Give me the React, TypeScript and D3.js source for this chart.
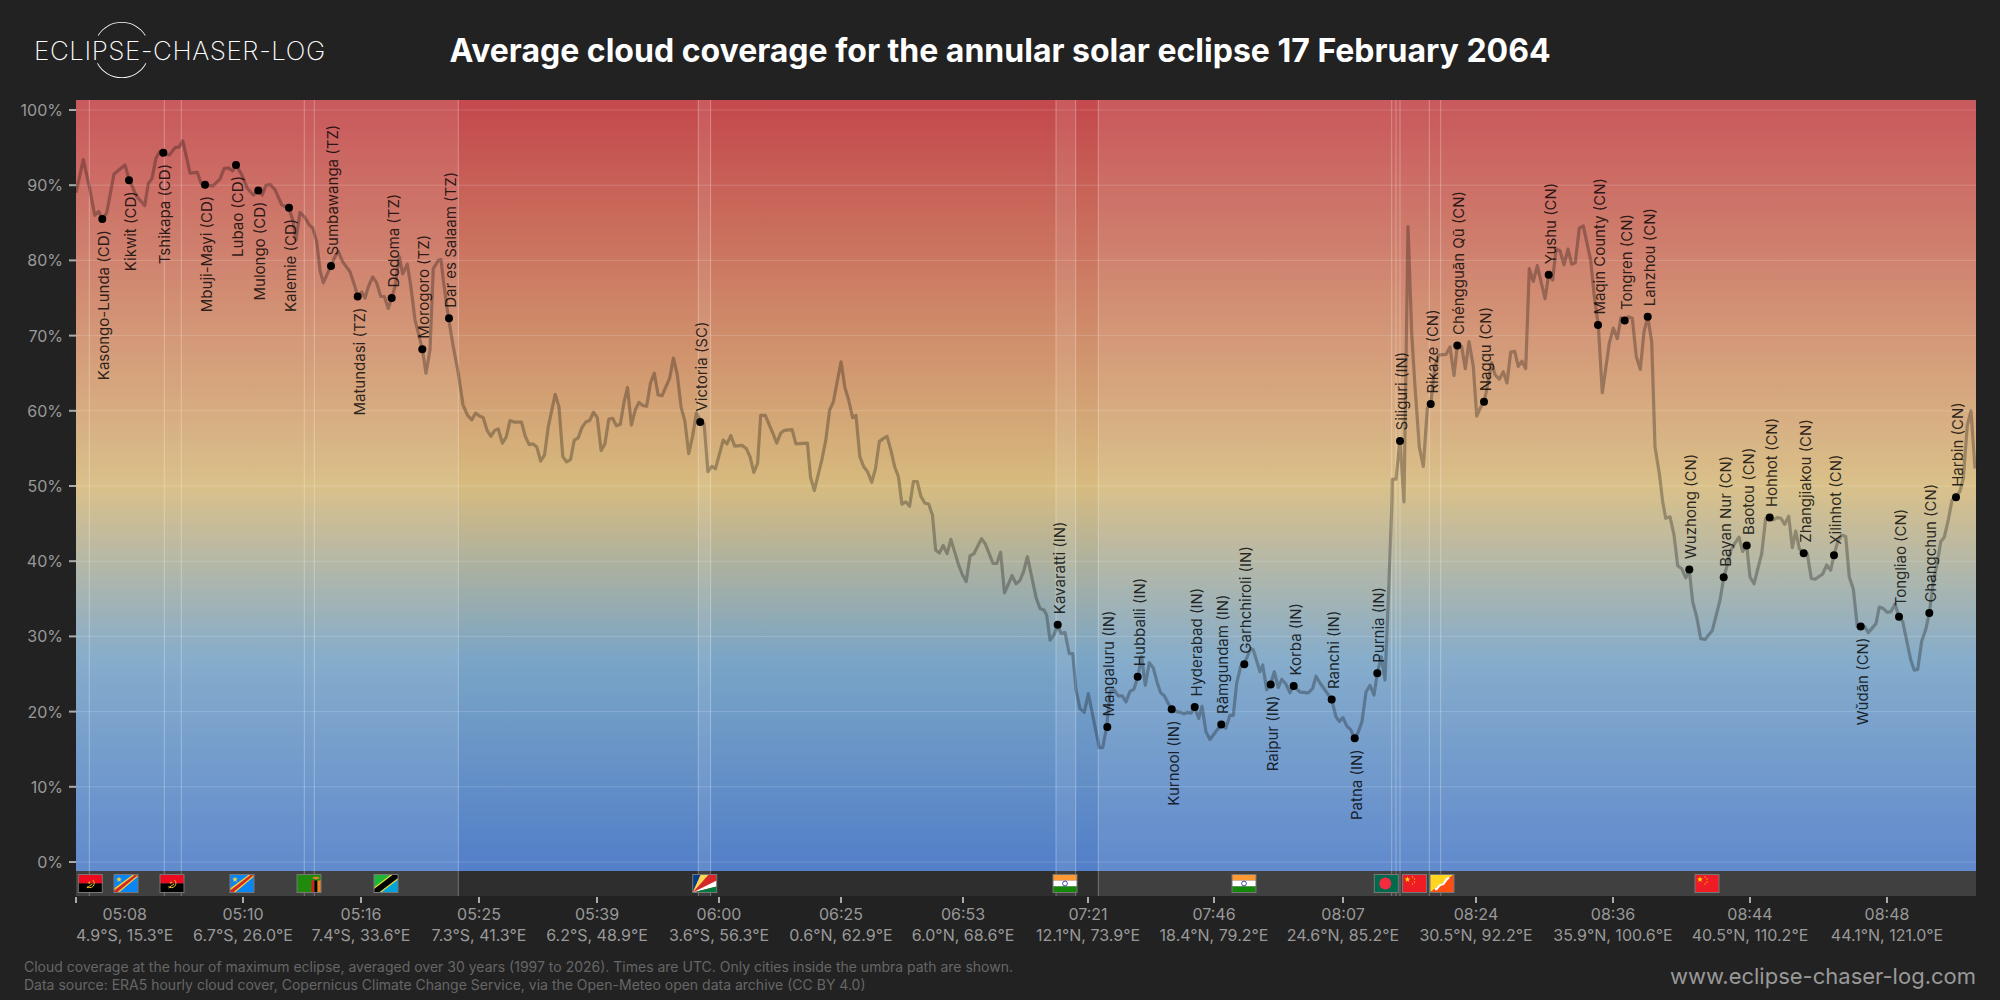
import React from "react";
import * as d3 from "d3";

// Position along the eclipse track (chart units) and average cloud cover (%)
const trackPos = [0,7.3,13.3,18.7,22.7,26.3,30.7,38,49,53.3,60.7,68.7,72.3,76,80,84,93.3,99,103.3,106.7,110,114,121.3,125.3,129.3,136.7,144,148,152.3,156.7,160,165.7,171.3,177.3,182.3,186.3,190,194,199,205.7,213,216.7,220,224,229,233.3,236.7,240.7,244,247.3,254.7,259,262.3,266.7,274,279,281.7,285.7,289,292.3,296.7,300.7,304.7,308.3,312.3,315.7,319,323.3,326.7,331.3,334.7,339,346.3,350,354,357.3,362.3,365,367.3,372.3,377.3,382.3,
387,391.6,395.8,399.6,403.4,407.2,411.1,414.9,418.7,422.2,426.4,430.2,434,437.9,445.5,449.3,453.2,457,460.8,464.6,468.5,472.3,479.2,483,486.8,490.7,494.5,498.3,502.2,506,509.8,513.6,517.5,521.3,525.1,528.9,532.8,536.6,540.4,544.3,548.1,551.5,555.4,559.2,563,566.8,570.7,574.5,578.3,582.1,586,593.6,597.4,601.3,605.1,608.9,612.7,616.6,620.4,624.2,628.1,631.9,635.7,639.5,647.2,651,654.8,658.7,666.3,670.2,674,677.8,681.6,684.7,689.3,696.9,700.8,704.6,708.4,716.1,719.9,731.4,734.5,738.3,745.9,749.8,753.6,757.4,761.2,765.1,768.9,772.7,776.6,780,783.8,787.6,791.5,795.7,799.5,803.3,807.2,811,814.8,818.6,822.5,825.9,829.7,833.6,837.4,841.2,845,848.9,852.7,856.5,859.6,863.4,867.2,871.1,874.9,882.6,886.4,890.2,894,897.9,905.5,909.3,917,920.8,924.6,928.5,936.1,940,943.8,947.6,951.4,955.3,960.2,
964,968,970.7,974,978,981.7,985,989,993.3,996.7,1000,1004,1008.3,1012.3,1019,1023.3,1026.7,1030.7,1034,1038,1042.3,1046.3,1050,1054,1058,1061.7,1065.7,1069.3,1073.3,1077.3,1081.3,1084.7,1088.3,1095.7,1104,1108,1111.7,1115,1118.7,1122.7,1126,1130,1134,1141.3,1145.7,1149.7,1154,1157.3,1160.7,1164.7,1168,1171.3,1174.7,1177.3,1184,1186.7,1190.7,1194.7,1198.3,1202.3,1205.7,1209.7,1214,1217.3,1224,1232.3,1236.7,1240,1244,1248.3,1255.7,1260,1263.3,1267,1270.7,1274.7,1278.7,1282.3,1286,1290,1294,1298,1301.3,1305.3,1309,1312.3,1316,
1316.3,1320,1324,1328,1332,1335.7,1339,1343.3,1347.3,1351.3,1354.7,1359,1362.3,1370,1374,1378,1381.3,1385.7,1389.3,1393,1397.3,1400.7,1404.7,1408,1410.7,1415.7,1419,1423.3,1427.3,1431,1434.7,1438.7,1442.3,1446,1449.7,1453.3,1457.3,1461.3,1469,1472.7,1476.7,1480,1484,1488,1492,1495.7,1499.3,1503.3,1507.3,1514.7,1518.3,1522.3,1526.3,1533.3,1537.3,1541.3,1545,1548.7,1552.3,1556.3,1560.3,1564.3,1568,1571.7,1575.7,
1579,1583.3,1586.7,1589.7,1594,1598,1601.7,1605.7,1609.7,1613.3,1616.7,1620.7,1624.7,1629,1636.3,1644,1647.7,1651.7,1655,1659,1663,1666.7,1670.7,1674,1678,1685.7,1689.7,1693.7,1697.3,1701.3,1705,1708.7,1712.7,1716.3,1719.7,1723.3,1727.3,1731.3,1735.3,1739,1746.7,1750.7,1754.7,1758,1761.7,1765.7,1769.7,1773.3,1777.3,1781.3,1784.7,1788.7,1792.3,1800,1803.3,1807.3,1811.3,1815,1819,1823,1826.7,1834.7,1838.3,1841.7,1845.7,1849.7,1853.3,1857.3,1860.7,1864.7,1868.3,1872.3,1876,1880,1884,1887.3,1891.3,1895,1899];

const cloudCover = [89,93.4,89.8,86,86.5,85.5,86.3,91.5,92.7,90.7,88.5,87.3,90.2,90.9,93.6,94.5,94,95,95.1,95.9,94,91.6,91.7,90.2,90,89.9,90.8,92.2,92.3,91.9,92.7,91.4,89.6,88.7,89.3,88.7,90,90.1,89.4,87.4,86.9,85.4,82.7,86.4,85.7,84.7,84.3,82.5,78.7,77,79.2,80.5,81.2,79.8,78.5,76.5,75.2,75.8,75,76.5,77.8,77,75.2,75.2,73.6,75,76.5,80.5,78.2,79.5,76.7,72.1,68.2,65,68.1,78.9,80,80.1,77.4,72.5,68.5,65,
60.8,59.4,58.8,59.7,59.3,59.1,57.4,56.6,57.4,57.6,55.7,56.5,58.7,58.5,58.5,56.6,55.5,55.6,55.2,53.3,54.1,57.9,62.2,60.5,53.9,53.2,53.5,56.1,56.4,57.8,58.5,58.7,59.8,59.1,54.7,55.6,58.9,59,58,58.2,61.2,63.1,58.1,60.1,61.1,60.7,60.6,63.7,65,62.1,62,64.3,67,64.8,60.5,58.6,54.3,56.6,59.7,58.8,58.3,51.9,52.6,52.3,56.1,55.6,56.7,55.3,55.4,55,53.9,51.8,53,59.4,59.4,57,55.7,57,57.4,57.5,55.6,55.7,51.2,49.4,53.5,56.1,60.1,61.2,63.9,66.5,63.1,61.4,59.1,59.4,53.9,52.6,51.9,50.5,52.3,55.9,56.3,56.6,54.8,52.6,51.2,47.6,47.9,47.3,50.6,50.6,48.6,47.7,47.6,46.1,41.5,41.1,42.1,41,42.9,39.5,38.2,37.3,40.7,41,43,42.3,39.7,39.7,41.2,35.8,38.1,37,37.4,38.6,40.6,38.2,35.1,
33.7,33.5,32.8,29.5,30.2,31.5,30.4,30.5,27.7,27.7,22.9,20.4,19.9,22.4,18,15.2,15.2,18,22.7,22.9,22.1,22.1,21.3,22.7,23,24.6,27.3,23.5,26.5,25.8,23.8,22.5,22.1,20.2,19.9,19.7,19.9,19.8,20.6,19.1,20.7,17.3,16.3,17.6,18.3,17.8,19.5,19.5,23.8,26,26.4,27.3,28.4,28.2,25.3,26.2,22.9,23.7,25.3,23.2,24.3,23.7,22.5,23.4,22.6,22.5,23.1,24.7,23.8,23,21.6,19.3,18.7,19.2,18.1,17.6,16.4,17.3,18.7,22.6,23.5,22.2,25.1,27.3,24.2,34.9,48.1,
50.9,50.9,56,47.9,84.5,70.3,63.2,55.2,52.6,60.3,60.9,65.9,67.4,67.5,68.5,64.7,68.7,68.5,65.6,69.2,65.9,59.3,60.5,61.2,62.8,66.4,64.8,64.2,65.2,63.7,67.8,67.9,65.9,66.6,65.6,78.9,77.2,79.3,74.9,78.1,77.4,81.5,81.3,79.4,81.5,79.5,79.7,84.3,84.6,80,75.2,71.4,62.4,69,71,69.6,72.4,72.1,72.5,72.3,67.2,65.5,70.5,72.5,69.2,
55.2,51.7,47.9,45.7,45.9,43.5,39.4,39,37.8,38.8,34.6,32.6,29.7,29.6,30.8,34.8,37.8,39.7,41.5,42.4,43.2,41.3,42.1,37.9,37,41,45.7,45.8,45.5,45.8,45.7,44.9,46,41.8,44,41.7,41,41,37.7,37.6,38.3,39.5,38.8,40.8,42.6,43.5,43.3,37.9,36.3,31.3,31.3,31.3,30.5,31.7,33.9,33.7,33.2,33.3,34.3,32.6,32,26.9,25.5,25.6,29.4,30.9,33.1,37.3,39.3,42.6,43.2,45.5,48.1,48.6,49.3,51,58.1,60,52.3];

const cityNames = ["Kasongo-Lunda (CD)","Kikwit (CD)","Tshikapa (CD)","Mbuji-Mayi (CD)","Lubao (CD)","Mulongo (CD)","Kalemie (CD)","Sumbawanga (TZ)","Matundasi (TZ)","Dodoma (TZ)","Morogoro (TZ)","Dar es Salaam (TZ)","Victoria (SC)","Kavaratti (IN)","Mangaluru (IN)","Hubballi (IN)","Kurnool (IN)","Hyderabad (IN)","Rāmgundam (IN)","Garhchiroli (IN)","Raipur (IN)","Korba (IN)","Ranchi (IN)","Patna (IN)","Purnia (IN)","Siliguri (IN)","Rikaze (CN)","Chéngguān Qū (CN)","Nagqu (CN)","Yushu (CN)","Maqin County (CN)","Tongren (CN)","Lanzhou (CN)","Wuzhong (CN)","Bayan Nur (CN)","Baotou (CN)","Hohhot (CN)","Zhangjiakou (CN)","Xilinhot (CN)","Wǔdān (CN)","Tongliao (CN)","Changchun (CN)","Harbin (CN)"];
const cityPos = [26.3,53,87.3,129,160,182.3,213,255,281.7,315.7,346.3,373,624.2,981.7,1031.3,1061.7,1095.7,1118.7,1145.3,1168.3,1194.7,1217.7,1255.7,1278.7,1301.3,1324,1354.7,1381.3,1408,1472.7,1522,1548.7,1571.7,1613.3,1647.7,1670.7,1693.7,1727.7,1758,1784.7,1823,1853.3,1880];
const cityCloud = [85.5,90.65,94.3,90.07,92.7,89.3,87,79.25,75.2,75,68.2,72.3,58.5,31.56,17.95,24.65,20.3,20.6,18.3,26.3,23.6,23.4,21.6,16.45,25.1,56,60.9,68.7,61.2,78.1,71.4,72,72.5,38.9,37.85,42.1,45.8,41.05,40.8,31.3,32.6,33.1,48.5];
const cityBelow = ["Kasongo-Lunda (CD)","Kikwit (CD)","Tshikapa (CD)","Mbuji-Mayi (CD)","Lubao (CD)","Mulongo (CD)","Kalemie (CD)","Matundasi (TZ)","Kurnool (IN)","Raipur (IN)","Patna (IN)","Wǔdān (CN)"];

const yTicks = [0,10,20,30,40,50,60,70,80,90,100];
const xTickPos = [0,167,285,403,521,643,765,887,1012,1138,1267,1400,1537,1674,1811];
const xLabelPos = [48.7,167,285,403,521,643,765,887,1012,1138,1267,1400,1537,1674,1811];
const xTimes = ["05:08","05:10","05:16","05:25","05:39","06:00","06:25","06:53","07:21","07:46","08:07","08:24","08:36","08:44","08:48"];
const xCoords = ["4.9°S, 15.3°E","6.7°S, 26.0°E","7.4°S, 33.6°E","7.3°S, 41.3°E","6.2°S, 48.9°E","3.6°S, 56.3°E","0.6°N, 62.9°E","6.0°N, 68.6°E","12.1°N, 73.9°E","18.4°N, 79.2°E","24.6°N, 85.2°E","30.5°N, 92.2°E","35.9°N, 100.6°E","40.5°N, 110.2°E","44.1°N, 121.0°E"];

// Stretches of the track over land, one per country passage
const landStart = [0,13.3,88.3,105.3,228.3,238.3,622.3,980,1022.3,1315.7,1320,1324,1353.3,1364.7];
const landEnd = [13.3,88.3,105.3,228.3,238.3,382.3,634.6,999.7,1315.7,1320,1324,1353.3,1364.7,1900];
// Country borders drawn as thin rules
const borderPos = [13.3,88.3,105.3,228.3,238.3,382.3,622.3,634.6,980,999.7,1022.3,1315.7,1320,1324,1353.3,1364.7];

const flagCodes = ["AO","CD","AO","CD","ZM","TZ","SC","IN","IN","BD","CN","BT","CN"];
const flagPos = [14.3,50,96,166,233,310,628.7,989,1168,1310.3,1338.5,1366,1631];

const gradientValues = [100,50,27,0];
const gradientColors = ["#c44a4d","#d7bb7f","#7aa5c6","#5380c8"];

const title = "Average cloud coverage for the annular solar eclipse 17 February 2064";
const footer = [
  "Cloud coverage at the hour of maximum eclipse, averaged over 30 years (1997 to 2026). Times are UTC. Only cities inside the umbra path are shown.",
  "Data source: ERA5 hourly cloud cover, Copernicus Climate Change Service, via the Open-Meteo open data archive (CC BY 4.0)",
];
const siteUrl = "www.eclipse-chaser-log.com";
const logoText = "ECLIPSE-CHASER-LOG";

const FONT = "Inter, 'Noto Sans', sans-serif";
const W = 2000, H = 1000;
const plotLeft = 76, plotRight = 1976, plotTop = 100, plotBottom = 871, stripBottom = 896;

const x = d3.scaleLinear().domain([0, 1900]).range([plotLeft, plotRight]);
const y = d3.scaleLinear().domain([0, 100]).range([862, 110]);

function Flag({ code, cx }: { code: string; cx: number }) {
  const w = 24, h = 18;
  const star = (sx: number, sy: number, r: number, fill: string) => {
    const pts = d3.range(10).map((i) => {
      const a = (i * Math.PI) / 5 - Math.PI / 2;
      const rr = i % 2 ? r * 0.42 : r;
      return `${sx + rr * Math.cos(a)},${sy + rr * Math.sin(a)}`;
    });
    return <polygon points={pts.join(" ")} fill={fill} />;
  };
  let body: React.ReactNode = null;
  if (code === "AO") {
    body = (
      <>
        <rect width={w} height={h / 2} fill="#ee0a1e" />
        <rect y={h / 2} width={w} height={h / 2} fill="#000" />
        <path d="M14.5 5.5 A4.2 4.2 0 1 1 8.5 12" fill="none" stroke="#e8c020" strokeWidth={1} />
        <path d="M8.5 13.5 L14 9.5" stroke="#e8c020" strokeWidth={1} />
        {star(11, 8, 1.6, "#e8c020")}
      </>
    );
  } else if (code === "CD") {
    body = (
      <>
        <rect width={w} height={h} fill="#0a85f5" />
        <polygon points={`0,${h} 0,${h - 4} ${w - 5},0 ${w},0 ${w},2 5,${h}`} fill="#f4d030" />
        <polygon points={`0,${h} 0,${h - 2} ${w - 3},0 ${w},0 ${w},0.5 3,${h}`} fill="#ce2a2a" />
        {star(5, 5, 3, "#f4d030")}
      </>
    );
  } else if (code === "ZM") {
    body = (
      <>
        <rect width={w} height={h} fill="#1f8a0c" />
        <rect x={14.5} y={6} width={3} height={12} fill="#d21f1f" />
        <rect x={17.5} y={6} width={3} height={12} fill="#000" />
        <rect x={20.5} y={6} width={3.5} height={12} fill="#f08020" />
        <path d="M15 3.5 Q19 1 23 3.5 L19 5 Z" fill="#e88020" />
      </>
    );
  } else if (code === "TZ") {
    body = (
      <>
        <polygon points={`0,0 ${w},0 0,${h}`} fill="#1eb53a" />
        <polygon points={`${w},0 ${w},${h} 0,${h}`} fill="#00a3dd" />
        <polygon points={`0,${h} 0,${h - 5} ${w - 7},0 ${w},0 ${w},5 7,${h}`} fill="#f0e030" />
        <polygon points={`0,${h} 0,${h - 3.5} ${w - 5},0 ${w},0 ${w},3.5 5,${h}`} fill="#000" />
      </>
    );
  } else if (code === "SC") {
    body = (
      <>
        <rect width={w} height={h} fill="#d62828" />
        <polygon points={`0,${h} 0,0 8,0`} fill="#003f87" />
        <polygon points={`0,${h} 8,0 16,0`} fill="#fcd856" />
        <polygon points={`0,${h} ${w},6 ${w},12`} fill="#fff" />
        <polygon points={`0,${h} ${w},12 ${w},${h}`} fill="#007a3d" />
      </>
    );
  } else if (code === "IN") {
    body = (
      <>
        <rect width={w} height={6} fill="#ff9933" />
        <rect y={6} width={w} height={6} fill="#fff" />
        <rect y={12} width={w} height={6} fill="#138808" />
        <circle cx={12} cy={9} r={2.4} fill="none" stroke="#000088" strokeWidth={0.7} />
      </>
    );
  } else if (code === "BD") {
    body = (
      <>
        <rect width={w} height={h} fill="#006a4e" />
        <circle cx={11} cy={9} r={6} fill="#f42a41" />
      </>
    );
  } else if (code === "CN") {
    body = (
      <>
        <rect width={w} height={h} fill="#ee1c25" />
        {star(5, 5, 3, "#ffdd00")}
        {star(10, 2.5, 1, "#ffdd00")}
        {star(12, 4.5, 1, "#ffdd00")}
        {star(12, 7.5, 1, "#ffdd00")}
        {star(10, 9.5, 1, "#ffdd00")}
      </>
    );
  } else if (code === "BT") {
    body = (
      <>
        <polygon points={`0,0 ${w},0 0,${h}`} fill="#ffd520" />
        <polygon points={`${w},0 ${w},${h} 0,${h}`} fill="#ff4e12" />
        <path d="M5 15 C9 14 8 10 12 10 C15 10 14 6 19 3" fill="none" stroke="#fff" strokeWidth={2.2} />
      </>
    );
  }
  return (
    <g transform={`translate(${cx - w / 2},874.5)`}>
      {body}
      <rect x={0} y={0} width={w} height={h} fill="none" stroke="#777" strokeWidth={1} />
    </g>
  );
}

export default function App() {
  const line = d3
    .line<number>()
    .x((_, i) => x(trackPos[i]))
    .y((d) => y(d));
  const logoArc = d3.arc();
  const arcTop = logoArc({ innerRadius: 27.3, outerRadius: 28.1, startAngle: -1.02, endAngle: 1.02 }) as string;
  const arcBottom = logoArc({ innerRadius: 27.3, outerRadius: 28.1, startAngle: Math.PI - 1.07, endAngle: Math.PI + 1.07 }) as string;
  const y1 = y(100), y2 = y(0);
  return (
    <svg
      width={W}
      height={H}
      viewBox={`0 0 ${W} ${H}`}
      style={{ position: "absolute", left: 0, top: 0, display: "block" }}
      fontFamily={FONT}
    >
      <defs>
        <linearGradient id="cloudGradient" gradientUnits="userSpaceOnUse" x1={0} x2={0} y1={y1} y2={y2}>
          {gradientValues.map((v, i) => (
            <stop key={v} offset={`${100 - v}%`} stopColor={gradientColors[i]} />
          ))}
        </linearGradient>
      </defs>
      <rect width={W} height={H} fill="#222222" />

      {/* Header */}
      <g transform="translate(121.7,50)" fill="#fff">
        <path d={arcTop} />
        <path d={arcBottom} />
      </g>
      <text x={34} y={59.5} fontSize={26} fontWeight={200} fill="#fff" letterSpacing={0.55}>{logoText}</text>
      <text x={1000} y={62} textAnchor="middle" fontSize={32} fontWeight={700} fill="#fff">{title}</text>

      {/* Plot area */}
      <rect x={plotLeft} y={plotTop} width={plotRight - plotLeft} height={plotBottom - plotTop} fill="url(#cloudGradient)" />
      <rect x={plotLeft} y={plotBottom} width={plotRight - plotLeft} height={stripBottom - plotBottom} fill="#2e2e2e" />
      {landStart.map((s, i) => (
        <rect key={i} x={x(s)} y={plotTop} width={x(landEnd[i]) - x(s)} height={stripBottom - plotTop} fill="#fff" fillOpacity={0.09} />
      ))}
      {yTicks.map((t) => (
        <line key={t} x1={plotLeft} x2={plotRight} y1={y(t)} y2={y(t)} stroke="#fff" strokeOpacity={0.17} strokeWidth={1} />
      ))}
      {borderPos.map((p) => (
        <line key={p} x1={x(p)} x2={x(p)} y1={plotTop} y2={stripBottom} stroke="#fff" strokeOpacity={0.3} strokeWidth={1} />
      ))}
      <path d={line(cloudCover) as string} fill="none" stroke="#000" strokeOpacity={0.28} strokeWidth={3.2} strokeLinejoin="round" />

      {/* Y axis */}
      {yTicks.map((t) => (
        <g key={t}>
          <line x1={69} x2={plotLeft} y1={y(t)} y2={y(t)} stroke="#aaa" strokeWidth={2} />
          <text x={63} y={y(t) + 6} textAnchor="end" fontSize={16} fill="#999">{t}%</text>
        </g>
      ))}

      {/* Cities */}
      {cityNames.map((name, i) => {
        const cx = x(cityPos[i]);
        const cy = y(cityCloud[i]);
        const below = cityBelow.includes(name);
        const ty = below ? cy + 11 : cy - 10.5;
        return (
          <g key={name}>
            <text
              transform={`translate(${cx + 7},${ty}) rotate(-90)`}
              textAnchor={below ? "end" : "start"}
              fontSize={15}
              fill="#000"
              fillOpacity={0.8}
            >
              {name}
            </text>
            <circle cx={cx} cy={cy} r={4} fill="#000" />
          </g>
        );
      })}

      {/* Flags */}
      {flagCodes.map((c, i) => (
        <Flag key={i} code={c} cx={x(flagPos[i])} />
      ))}

      {/* X axis */}
      {xTimes.map((t, i) => (
        <g key={t}>
          <line x1={x(xTickPos[i])} x2={x(xTickPos[i])} y1={897} y2={903} stroke="#aaa" strokeWidth={2} />
          <text x={x(xLabelPos[i])} y={920} textAnchor="middle" fontSize={16} fill="#999">{t}</text>
          <text x={x(xLabelPos[i])} y={941} textAnchor="middle" fontSize={16} fill="#999">{xCoords[i]}</text>
        </g>
      ))}

      {/* Footer */}
      {footer.map((f, i) => (
        <text key={i} x={24} y={972 + i * 18} fontSize={14} fill="#666">{f}</text>
      ))}
      <text x={plotRight} y={984} textAnchor="end" fontSize={22} fill="#999">{siteUrl}</text>
    </svg>
  );
}
